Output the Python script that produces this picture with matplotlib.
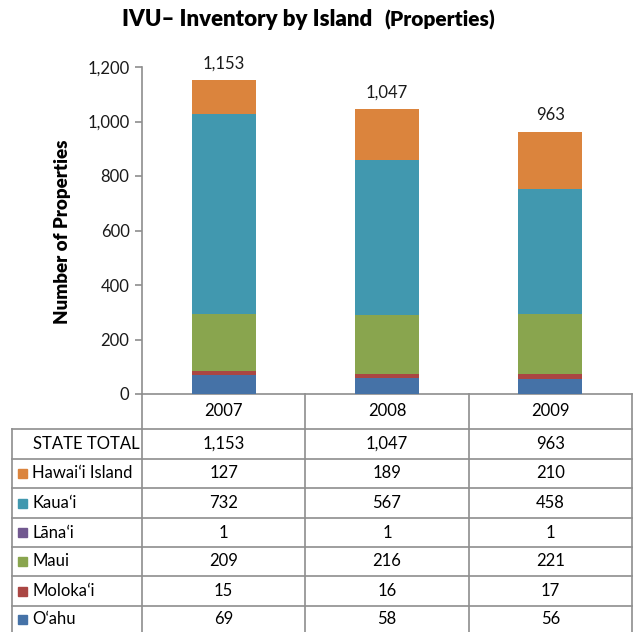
import matplotlib
matplotlib.use("Agg")
import matplotlib.pyplot as plt
from matplotlib.transforms import blended_transform_factory

plt.rcParams['font.family'] = ['Lato', 'DejaVu Sans']

# data
years = ['2007', '2008', '2009']
islands = ['Hawai\u02bbi Island', 'Kaua\u02bbi', 'L\u0101na\u02bbi', 'Maui', 'Moloka\u02bbi', 'O\u02bbahu']
hawaii = [127, 189, 210]
kauai = [732, 567, 458]
lanai = [1, 1, 1]
maui = [209, 216, 221]
molokai = [15, 16, 17]
oahu = [69, 58, 56]
totals = [1153, 1047, 963]
colors = ['#DB843D', '#4198AF', '#71588F', '#89A54E', '#AA4643', '#4572A7']

series = [hawaii, kauai, lanai, maui, molokai, oahu]

W, H = 639, 632
fig = plt.figure(figsize=(W / 100, H / 100), dpi=100, facecolor='white')

# main bar axes (pixel layout)
ax_l, ax_r, ax_t, ax_b = 142, 632, 67, 394
ax = fig.add_axes([ax_l / W, 1 - ax_b / H, (ax_r - ax_l) / W, (ax_b - ax_t) / H])
ax.set_xlim(-0.5, 2.5)
ax.set_ylim(0, 1200)

x = range(len(years))
bottom = [0, 0, 0]
# stack from bottom (O'ahu) to top (Hawai'i Island)
for vals, col in zip(series[::-1], colors[::-1]):
    ax.bar(x, vals, width=0.39, bottom=bottom, color=col, edgecolor='none')
    bottom = [b + v for b, v in zip(bottom, vals)]

for i, t in enumerate(totals):
    ax.annotate('{:,}'.format(t), (i, t), xytext=(0, 6), textcoords='offset points',
                ha='center', va='bottom', fontsize=12, color='#1a1a1a')

ax.set_yticks(range(0, 1201, 200))
ax.set_yticklabels(['{:,}'.format(v) for v in range(0, 1201, 200)], fontsize=12, color='#1a1a1a')
ax.set_xticks([])
for s in ['top', 'right', 'bottom']:
    ax.spines[s].set_visible(False)
ax.spines['left'].set_color('#8e8e8e')
ax.spines['left'].set_linewidth(1.2)
ax.tick_params(axis='y', length=5, width=1.2, color='#8e8e8e', pad=4)
ax.set_facecolor('none')

fig.text(63 / W, 1 - 232 / H, 'Number of Properties', rotation=90, fontsize=13.5,
         fontweight='heavy', ha='center', va='center')

# title
fig.text(122 / W, 1 - 19 / H, 'IVU\u2013 Inventory by Island', fontsize=16,
         fontweight='heavy', ha='left', va='center')
fig.text(384 / W, 1 - 20 / H, '(Properties)', fontsize=15,
         fontweight='heavy', ha='left', va='center')

# data table overlay in pixel coords
ov = fig.add_axes([0, 0, 1, 1], zorder=-1)
ov.set_xlim(0, W)
ov.set_ylim(H, 0)
ov.axis('off')
tr = blended_transform_factory(ax.transData, ov.transData)

lc = '#8e8e8e'
row_y = [394, 429, 459, 488, 518, 547, 576, 606, 632]
col_x = [12, 142, 305, 469, 632]

# horizontal lines
ov.plot([142, 632], [394, 394], color=lc, lw=1.2)
for y in row_y[1:-1]:
    ov.plot([12, 632], [y, y], color=lc, lw=1.2)
# vertical lines
for cx in col_x[1:]:
    ov.plot([cx, cx], [394, 632], color=lc, lw=1.2)
ov.plot([12, 12], [429, 632], color=lc, lw=1.2)

# header row
hy = (row_y[0] + row_y[1]) / 2
for i, yr in enumerate(years):
    ov.text(i, hy, yr, transform=tr, ha='center', va='center', fontsize=12)

# state total row
ty = (row_y[1] + row_y[2]) / 2
ov.text(33, ty, 'STATE TOTAL', ha='left', va='center', fontsize=12)
for i, t in enumerate(totals):
    ov.text(i, ty, '{:,}'.format(t), transform=tr, ha='center', va='center', fontsize=12)

# island rows
for r, (name, vals, col) in enumerate(zip(islands, series, colors)):
    yc = (row_y[r + 2] + row_y[r + 3]) / 2
    ov.add_patch(plt.Rectangle((18, yc - 4.5), 9, 9, color=col))
    ov.text(32, yc, name, ha='left', va='center', fontsize=12)
    for i, v in enumerate(vals):
        ov.text(i, yc, '{:,}'.format(v), transform=tr, ha='center', va='center', fontsize=12)

fig.savefig('out.png', dpi=100)
